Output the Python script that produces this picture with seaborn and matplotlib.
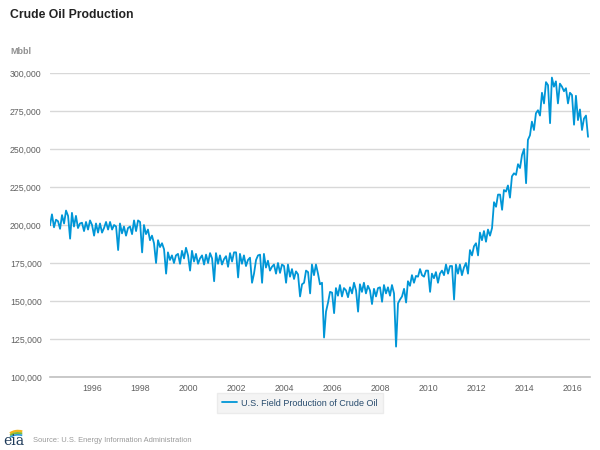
import numpy as np
import pandas as pd
import seaborn as sns
import matplotlib.pyplot as plt
import matplotlib.dates as mdates
from matplotlib.ticker import FuncFormatter, FixedLocator
from matplotlib.patches import Arc

# ============ data (Mbbl per month) ============
first_month = "1994-04-01"
last_month = "2016-09-01"
series_name = "U.S. Field Production of Crude Oil"

production = [
    # 1994 (Apr-Dec)
    199800, 207000, 198500, 203500, 202500, 197500, 206500, 201000, 209500,
    # 1995
    206000, 191000, 208000, 199000, 206000, 198000, 201000, 201500, 196000, 202000, 197000, 203000,
    # 1996
    200000, 193000, 201000, 195000, 201000, 195000, 198000, 202000, 197000, 202000, 197000, 200000,
    # 1997
    199000, 183500, 201000, 194500, 199000, 193000, 198000, 199000, 194000, 203000, 196000, 203000,
    # 1998
    202000, 182000, 200000, 194000, 197000, 190000, 193000, 188000, 175000, 190000, 185500, 188000,
    # 1999
    184000, 168000, 182000, 177000, 180000, 175000, 180000, 181000, 174500, 183000, 178000, 185000,
    # 2000
    180000, 170000, 183000, 176000, 181000, 174500, 178000, 180000, 174000, 180500, 175000, 181500,
    # 2001
    178000, 163000, 181500, 174500, 180000, 174000, 177500, 179500, 172500, 181500, 176000, 182000,
    # 2002
    182000, 165500, 181000, 174500, 180000, 173000, 177000, 178500, 162000, 168000, 177000, 180000,
    # 2003
    180500, 162000, 181000, 172000, 176500, 170000, 172500, 174000, 168000, 175000, 168500, 174000,
    # 2004
    173000, 162000, 174000, 166000, 171000, 164500, 169500, 167500, 153000, 161000, 162000, 170000,
    # 2005
    169000, 155000, 174000, 167000, 174000, 168000, 161000, 162000, 126000, 143000, 149000, 156000,
    # 2006
    155500, 142000, 158500, 153500, 160500, 153000, 158500, 157000, 152500, 159000, 155000, 162000,
    # 2007
    157000, 143000, 161000, 156000, 162000, 155000, 160000, 157000, 148000, 158000, 153000, 158500,
    # 2008
    159000, 149500, 160500, 155000, 159000, 153500, 160500, 155000, 120000, 148500, 151000, 153000,
    # 2009
    158000, 149000, 163000, 160000, 167000, 162000, 166500, 166000, 171000, 167000, 166000, 170000,
    # 2010
    170000, 156000, 168000, 165000, 169000, 162000, 168000, 170000, 167000, 174000, 168000, 173000,
    # 2011
    173000, 151000, 174000, 168000, 174000, 167000, 172000, 175000, 168000, 183500, 180000, 186000,
    # 2012
    188000, 180000, 195000, 190000, 196000, 189000, 197000, 193000, 198000, 215000, 212000, 220000,
    # 2013
    220000, 210000, 223000, 222000, 226000, 218000, 232000, 234000, 233000, 240000, 237500, 246000,
    # 2014
    250000, 227500, 256000, 259000, 268000, 262500, 273500, 275500, 272000, 287000, 280000, 294000,
    # 2015
    292000, 267000, 297000, 291000, 294500, 280000, 293000, 291000, 288000, 290000, 280000, 287000,
    # 2016 (Jan-Sep)
    285500, 266000, 285000, 269000, 276000, 262500, 270000, 272000, 258000,
]

y_ticks = [100000, 125000, 150000, 175000, 200000, 225000, 250000, 275000, 300000]
x_tick_years = [1996, 1998, 2000, 2002, 2004, 2006, 2008, 2010, 2012, 2014, 2016]

LINE_BLUE = "#0096d7"
GRID = "#d8d8d8"
LABEL = "#606060"

months = pd.date_range(first_month, last_month, freq="MS")
df = pd.DataFrame({"month": months, "production": production})

sns.set_theme(style="white")
plt.rcParams["font.family"] = ["Liberation Sans", "DejaVu Sans"]

fig = plt.figure(figsize=(6, 4.5), dpi=100)
ax = fig.add_axes([50 / 600, 1 - 377 / 450, 540 / 600, 304 / 450])

sns.lineplot(data=df, x="month", y="production", ax=ax, color=LINE_BLUE,
             linewidth=1.3, label=series_name)

ax.set_ylim(100000, 300000)
ax.set_xlim(pd.Timestamp("1994-04-01"), pd.Timestamp("2016-10-01"))
ax.yaxis.set_major_locator(FixedLocator(y_ticks))
ax.yaxis.set_major_formatter(FuncFormatter(lambda v, p: f"{v:,.0f}"))
ax.xaxis.set_major_locator(FixedLocator([mdates.date2num(pd.Timestamp(f"{y}-01-01")) for y in x_tick_years]))
ax.xaxis.set_major_formatter(FuncFormatter(lambda v, p: str(mdates.num2date(v).year)))

ax.grid(axis="y", color=GRID, linewidth=1)
ax.grid(axis="x", visible=False)
ax.set_axisbelow(True)
for side in ["left", "right", "top"]:
    ax.spines[side].set_visible(False)
ax.spines["bottom"].set_color("#c0c0c0")
ax.spines["bottom"].set_linewidth(1.2)

ax.tick_params(axis="y", length=0, labelsize=6.3, labelcolor=LABEL, pad=6)
ax.tick_params(axis="x", length=4, width=0.8, color="#c0c0c0", direction="out",
               labelsize=6.3, labelcolor=LABEL, pad=1)
ax.set_xlabel("")
ax.set_ylabel("")

leg = ax.legend(loc="center", bbox_to_anchor=(0.5, 1 - 403 / 450), bbox_transform=fig.transFigure,
                frameon=True, fancybox=False, fontsize=6.5, handlelength=1.6,
                borderpad=0.6, handletextpad=0.5)
leg.get_frame().set_facecolor("#f2f2f2")
leg.get_frame().set_edgecolor("#e8e8e8")
for t in leg.get_texts():
    t.set_color("#274b6d")

fig.text(10 / 600, 1 - 15 / 450, "Crude Oil Production", fontsize=8.8, fontweight="bold",
         color="#222222", va="center", ha="left")
fig.text(10 / 600, 1 - 52 / 450, "Mbbl", fontsize=6.5, fontweight="bold",
         color="#909090", va="center", ha="left")
fig.text(33 / 600, 1 - 440 / 450, "Source: U.S. Energy Information Administration",
         fontsize=5.4, color="#999999", va="center", ha="left")

# small eia mark
logo = fig.add_axes([3 / 600, 1 - 450 / 450, 26 / 600, 24 / 450])
logo.set_xlim(0, 26)
logo.set_ylim(0, 24)
logo.axis("off")
logo.text(11, 9, "eia", fontsize=10, family="DejaVu Serif", color="#1f3b5a",
          ha="center", va="center")
for w, c, off in [(1.8, "#f2b51c", 0), (1.4, "#7dba3c", 2.0), (1.2, "#2a9bd8", 3.8)]:
    logo.add_patch(Arc((15, 11 - off), 22, 16, theta1=60, theta2=145, color=c, linewidth=w))

fig.savefig("out.png", dpi=100)
